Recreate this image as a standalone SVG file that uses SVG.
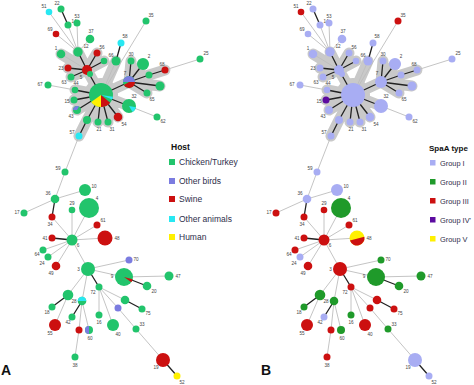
<svg xmlns="http://www.w3.org/2000/svg" xmlns:xlink="http://www.w3.org/1999/xlink" width="474" height="385" viewBox="0 0 474 385">
<style>
.g{fill:#22c46c}.p{fill:#7b7ce0}.r{fill:#cc1010}.c{fill:#28e8f2}.y{fill:#fff000}
.l{fill:#a8adf3}.G{fill:#1f9a2a}.P{fill:#5c0ba0}
.hl{stroke:#c9c9c9;stroke-width:11;stroke-linecap:round;fill:none}
.lt{stroke:#bdbdbd;stroke-width:0.9;fill:none}
.dk{stroke:#222;stroke-width:1.3;fill:none}
text{font-family:"Liberation Sans",Arial,sans-serif}
.t{font-size:4.6px;fill:#444;text-anchor:middle}
.lg{font-size:8.5px;fill:#2d2d4a}
.lg2{font-size:7.4px;fill:#2d2d4a}
.lh{font-size:8.5px;font-weight:bold;fill:#111}
.lh2{font-size:8px;font-weight:bold;fill:#111}
.pl{font-size:14px;font-weight:bold;fill:#111}
</style>
<defs>
<g id="edgesA">
<circle cx="101" cy="95" r="17" fill="#c9c9c9"/>
<path class="hl" d="M87,70L78,52M87,70L97,53M87,70L104,61M87,70L68,68M87,70L71,77M87,70L61,54M87,70L101,95M101,95L75,90M101,95L74,100M101,95L77,110M101,95L87,120M101,95L98,122M101,95L108,122M101,95L118,117M101,95L129,106M101,95L129,82M101,95L116,61M129,82L131,61M129,82L143,64M129,82L149,75M129,82L160,86M129,82L147,93M149,75L165,70M87,120L79,136"/>
<path class="lt" d="M49,12L78,52M56,34L78,52M68,25L78,52M77,23L78,52M90,39L78,52M61,54L87,70M48,85L75,90M146,21L101,95M116,61L101,95M165,70L200,59M157,117L129,106M79,136L65,172L55,199L85,190M55,199L24,213M52,217L72,240M72,240L72,210M72,240L89,208M72,240L97,225M72,240L105,238M72,240L43,250M72,240L48,257M72,240L56,266M72,240L88,269M88,269L129,260M88,269L124,277L169,276M88,269L68,295L55,325M88,269L82,301M82,301L79,330L75,357M82,301L89,330M99,287L99,315M99,287L113,325M99,287L125,300M99,287L118,308L136,329L163,360"/>
<path class="dk" d="M61,9L68,25M78,52L87,70M97,53L87,70M104,61L87,70M68,68L87,70M71,77L87,70M90,74L87,70M87,70L101,95M75,90L101,95M74,100L101,95M77,110L101,95M87,120L101,95M98,122L101,95M108,122L101,95M118,117L101,95M129,106L101,95M129,82L101,95M121,43L116,61M129,82L131,61M129,82L143,64M129,82L149,75M129,82L160,86M129,82L147,93M149,75L165,70M87,120L79,136M55,199L52,217M72,240L52,238M124,277L147,286M88,269L99,287M68,295L52,307M82,301L72,317M125,300L142,309M163,360L177,376"/>
</g>
</defs>

<g id="connectors-A"><use xlink:href="#edgesA"/></g>
<g id="connectors-B"><use xlink:href="#edgesA" x="252"/></g>

<!-- Panel A nodes -->
<g id="panelA">
<g id="a51" transform="translate(49,12)"><circle r="3.3" class="c"/><text class="t" x="-5" y="-4.4">51</text></g>
<g id="a22" transform="translate(61,9)"><circle r="3.5" class="g"/><text class="t" x="-4" y="-4.4">22</text></g>
<g id="a14" transform="translate(68,25)"><circle r="3.5" class="g"/><text class="t" x="6" y="-2.4">14</text></g>
<g id="a53" transform="translate(77,23)"><circle r="3.5" class="g"/><text class="t" x="0" y="-5.4">53</text></g>
<g id="a69" transform="translate(56,34)"><circle r="3.3" class="r"/><text class="t" x="-6" y="-3.4">69</text></g>
<g id="a37" transform="translate(90,39)"><circle r="4.3" class="g"/><text class="t" x="1" y="-5.6">37</text></g>
<g id="a58" transform="translate(121,43)"><circle r="3.5" class="c"/><text class="t" x="4" y="-5.4">58</text></g>
<g id="a35" transform="translate(146,21)"><circle r="3.5" class="g"/><text class="t" x="5" y="-4.4">35</text></g>
<g id="a1" transform="translate(61,54)"><circle r="4.3" class="g"/><text class="t" x="-5" y="-4.4">1</text></g>
<g id="a12" transform="translate(78,52)"><circle r="4.7" class="g"/><text class="t" x="8" y="-4.4">12</text></g>
<g id="a56" transform="translate(97,53)"><circle r="3.5" class="r"/><text class="t" x="5" y="-4.4">56</text></g>
<g id="a60t" transform="translate(104,61)"><circle r="3.3" class="g"/></g>
<g id="a66" transform="translate(116,61)"><circle r="4.5" class="g"/><text class="t" x="-5" y="-4.4">66</text></g>
<g id="a30" transform="translate(131,61)"><circle r="3.5" class="g"/><text class="t" x="0" y="-5.4">30</text></g>
<g id="a2" transform="translate(143,64)"><circle r="6" class="g"/><text class="t" x="6" y="-6.4">2</text></g>
<g id="a68" transform="translate(165,70)"><circle r="3.5" class="r"/><text class="t" x="-3" y="-4.4">68</text></g>
<g id="a25" transform="translate(200,59)"><circle r="3.5" class="g"/><text class="t" x="6" y="-4.4">25</text></g>
<g id="a23" transform="translate(68,68)"><circle r="3.5" class="r"/><text class="t" x="-7" y="1.6">23</text></g>
<g id="a5" transform="translate(87,70)"><circle r="5" class="r"/><text class="t" x="-6" y="8.6">5</text></g>
<g id="a63" transform="translate(71,77)"><circle r="3.5" class="g"/><text class="t" x="-7" y="6.6">63</text></g>
<g id="a90" transform="translate(90,74)"><circle r="3" class="g"/></g>
<g id="a67" transform="translate(48,85)"><circle r="3.5" class="g"/><text class="t" x="-8" y="0.6">67</text></g>
<g id="a44" transform="translate(75,90)"><circle r="3.3" class="g"/><text class="t" x="1" y="-5.4">44</text></g>
<g id="a15" transform="translate(74,100)"><circle r="3.5" class="g"/><text class="t" x="-7" y="2.6">15</text></g>
<g id="a43" transform="translate(77,110)"><circle r="4" class="g"/><path class="p" d="M0,0L-4,0A4,4 0 0 1 2,-3.46Z"/><text class="t" x="-6" y="7.6">43</text></g>
<g id="a8" transform="translate(101,95)"><circle r="12" class="g"/><path class="r" d="M0,0L9.19,7.71A12,12 0 0 1 0,12Z"/><path class="y" d="M0,0L0,12A12,12 0 0 1 -9.83,6.88Z"/><path class="c" d="M0,0L11.88,1.67A12,12 0 0 1 11.13,4.5Z"/></g>
<g id="a87" transform="translate(87,120)"><circle r="4" class="g"/></g>
<g id="a21" transform="translate(98,122)"><circle r="3.5" class="g"/><text class="t" x="1" y="8.6">21</text></g>
<g id="a31" transform="translate(108,122)"><circle r="3.5" class="g"/><text class="t" x="4" y="8.6">31</text></g>
<g id="a54" transform="translate(118,117)"><circle r="4.3" class="r"/><text class="t" x="6" y="9">54</text></g>
<g id="a7" transform="translate(129,82)"><circle r="6" class="g"/><path class="p" d="M0,0L-6,0A6,6 0 0 1 6,0Z"/><path class="r" d="M0,0L6,0A6,6 0 0 1 -5.2,3Z"/><text class="t" x="-4" y="-6.6">7</text></g>
<g id="a149" transform="translate(149,75)"><circle r="3.5" class="g"/></g>
<g id="a40t" transform="translate(160,86)"><circle r="4.5" class="g"/></g>
<g id="a65" transform="translate(147,93)"><circle r="3.5" class="g"/><text class="t" x="5" y="7.6">65</text></g>
<g id="a32" transform="translate(129,106)"><circle r="7" class="g"/><path class="c" d="M0,0L6.89,1.22A7,7 0 0 1 3.5,6.06Z"/><text class="t" x="5" y="-7.6">32</text></g>
<g id="a62" transform="translate(157,117)"><circle r="3.5" class="g"/><text class="t" x="6" y="5.6">62</text></g>
<g id="a57" transform="translate(79,136)"><circle r="3.5" class="c"/><text class="t" x="-7" y="-2.4">57</text></g>
<g id="a59" transform="translate(65,172)"><circle r="3.5" class="g"/><text class="t" x="-7" y="-2.4">59</text></g>
<g id="a36" transform="translate(55,199)"><circle r="4.3" class="g"/><text class="t" x="-7" y="-4.4">36</text></g>
<g id="a10" transform="translate(85,190)"><circle r="6" class="g"/><text class="t" x="9" y="-2.4">10</text></g>
<g id="a17" transform="translate(24,213)"><circle r="3.5" class="g"/><text class="t" x="-7" y="0.6">17</text></g>
<g id="a34" transform="translate(52,217)"><circle r="3.5" class="r"/><text class="t" x="-2" y="8.6">34</text></g>
<g id="a29" transform="translate(72,210)"><circle r="3.3" class="g"/><text class="t" x="0" y="-5.4">29</text></g>
<g id="a4" transform="translate(89,208)"><circle r="10" class="g"/><text class="t" x="8" y="-8.4">4</text></g>
<g id="a61" transform="translate(97,225)"><circle r="3.5" class="r"/><text class="t" x="6" y="-3.4">61</text></g>
<g id="a48" transform="translate(105,238)"><circle r="7.5" class="r"/><text class="t" x="12" y="1.6">48</text></g>
<g id="a41" transform="translate(52,238)"><circle r="3.5" class="r"/><text class="t" x="-7" y="1.6">41</text></g>
<g id="a6" transform="translate(72,240)"><circle r="5.5" class="g"/><text class="t" x="6" y="7">6</text></g>
<g id="a64" transform="translate(43,250)"><circle r="3.5" class="g"/><text class="t" x="-6" y="5.6">64</text></g>
<g id="a24" transform="translate(48,257)"><circle r="3.5" class="g"/><text class="t" x="-6" y="7.6">24</text></g>
<g id="a49" transform="translate(56,266)"><circle r="4.3" class="r"/><text class="t" x="-5" y="8.6">49</text></g>
<g id="a3" transform="translate(88,269)"><circle r="7" class="g"/><text class="t" x="-9.5" y="1.6">3</text></g>
<g id="a70" transform="translate(129,260)"><circle r="3.5" class="p"/><text class="t" x="7" y="0.6">70</text></g>
<g id="a9" transform="translate(124,277)"><circle r="9" class="g"/><path class="r" d="M0,0L8.69,2.33A9,9 0 0 1 7.37,5.16Z"/><text class="t" x="-12" y="0.6">9</text></g>
<g id="a47" transform="translate(169,276)"><circle r="4.5" class="g"/><text class="t" x="9" y="1.6">47</text></g>
<g id="a20" transform="translate(147,286)"><circle r="4.3" class="g"/><text class="t" x="7" y="6.6">20</text></g>
<g id="a72" transform="translate(99,287)"><circle r="3.5" class="g"/><text class="t" x="-6" y="6.6">72</text></g>
<g id="a68b" transform="translate(68,295)"><circle r="5.3" class="g"/></g>
<g id="a18" transform="translate(52,307)"><circle r="3.5" class="g"/><text class="t" x="-5" y="6.6">18</text></g>
<g id="a55" transform="translate(55,325)"><circle r="6" class="r"/><text class="t" x="-5" y="9.6">55</text></g>
<g id="a28" transform="translate(82,301)"><circle r="4.3" class="g"/><path class="c" d="M-4.3,0A4.3,4.3 0 0 1 4.3,0Z"/><text class="t" x="-8" y="1.6">28</text></g>
<g id="a42" transform="translate(72,317)"><circle r="3.5" class="g"/><text class="t" x="-4" y="6.6">42</text></g>
<g id="a79" transform="translate(79,330)"><circle r="3.5" class="r"/></g>
<g id="a60" transform="translate(89,330)"><circle r="4" class="g"/><path class="p" d="M0,-4A4,4 0 0 0 0,4Z"/><text class="t" x="1" y="9.6">60</text></g>
<g id="a38" transform="translate(75,357)"><circle r="3.5" class="g"/><text class="t" x="0" y="9.6">38</text></g>
<g id="a16" transform="translate(99,315)"><circle r="3.5" class="g"/><text class="t" x="0" y="8.6">16</text></g>
<g id="a40" transform="translate(113,325)"><circle r="6" class="g"/><text class="t" x="5" y="10.6">40</text></g>
<g id="a13" transform="translate(125,300)"><circle r="4.3" class="g"/></g>
<g id="a39" transform="translate(118,308)"><circle r="3.5" class="p"/></g>
<g id="a75" transform="translate(142,309)"><circle r="3.5" class="g"/><text class="t" x="6" y="5.6">75</text></g>
<g id="a33" transform="translate(136,329)"><circle r="3.5" class="g"/><text class="t" x="6" y="-3.4">33</text></g>
<g id="a19" transform="translate(163,360)"><circle r="7" class="r"/><text class="t" x="-7" y="9">19</text></g>
<g id="a52" transform="translate(177,376)"><circle r="3.5" class="y"/><text class="t" x="5" y="7.6">52</text></g>
</g>

<!-- Panel B nodes -->
<g id="panelB" transform="translate(252,0)">
<g id="b51" transform="translate(49,12)"><circle r="3.3" class="r"/><text class="t" x="-5" y="-4.4">51</text></g>
<g id="b22" transform="translate(61,9)"><circle r="3.5" class="l"/><text class="t" x="-4" y="-4.4">22</text></g>
<g id="b14" transform="translate(68,25)"><circle r="3.5" class="l"/><text class="t" x="6" y="-2.4">14</text></g>
<g id="b53" transform="translate(77,23)"><circle r="3.5" class="l"/><text class="t" x="0" y="-5.4">53</text></g>
<g id="b69" transform="translate(56,34)"><circle r="3.3" class="l"/><text class="t" x="-6" y="-3.4">69</text></g>
<g id="b37" transform="translate(90,39)"><circle r="4.3" class="l"/><text class="t" x="1" y="-5.6">37</text></g>
<g id="b58" transform="translate(121,43)"><circle r="3.5" class="l"/><text class="t" x="4" y="-5.4">58</text></g>
<g id="b35" transform="translate(146,21)"><circle r="3.5" class="r"/><text class="t" x="5" y="-4.4">35</text></g>
<g id="b1" transform="translate(61,54)"><circle r="4.3" class="l"/><text class="t" x="-5" y="-4.4">1</text></g>
<g id="b12" transform="translate(78,52)"><circle r="4.7" class="l"/><text class="t" x="8" y="-4.4">12</text></g>
<g id="b56" transform="translate(97,53)"><circle r="3.5" class="l"/><text class="t" x="5" y="-4.4">56</text></g>
<g id="b60t" transform="translate(104,61)"><circle r="3.3" class="l"/></g>
<g id="b66" transform="translate(116,61)"><circle r="4.5" class="l"/><text class="t" x="-5" y="-4.4">66</text></g>
<g id="b30" transform="translate(131,61)"><circle r="3.5" class="l"/><text class="t" x="0" y="-5.4">30</text></g>
<g id="b2" transform="translate(143,64)"><circle r="6" class="l"/><text class="t" x="6" y="-6.4">2</text></g>
<g id="b68" transform="translate(165,70)"><circle r="3.5" class="l"/><text class="t" x="-3" y="-4.4">68</text></g>
<g id="b25" transform="translate(200,59)"><circle r="3.5" class="l"/><text class="t" x="6" y="-4.4">25</text></g>
<g id="b23" transform="translate(68,68)"><circle r="3.5" class="l"/><text class="t" x="-7" y="1.6">23</text></g>
<g id="b5" transform="translate(87,70)"><circle r="5" class="l"/><text class="t" x="-6" y="8.6">5</text></g>
<g id="b63" transform="translate(71,77)"><circle r="3.5" class="l"/><text class="t" x="-7" y="6.6">63</text></g>
<g id="b90" transform="translate(90,74)"><circle r="3" class="l"/></g>
<g id="b67" transform="translate(48,85)"><circle r="3.5" class="l"/><text class="t" x="-8" y="0.6">67</text></g>
<g id="b44" transform="translate(75,90)"><circle r="3.3" class="l"/><text class="t" x="1" y="-5.4">44</text></g>
<g id="b15" transform="translate(74,100)"><circle r="3.5" class="P"/><text class="t" x="-7" y="2.6">15</text></g>
<g id="b43" transform="translate(77,110)"><circle r="4" class="l"/><text class="t" x="-6" y="7.6">43</text></g>
<g id="b8" transform="translate(101,95)"><circle r="12" class="l"/></g>
<g id="b87" transform="translate(87,120)"><circle r="4" class="l"/></g>
<g id="b21" transform="translate(98,122)"><circle r="3.5" class="l"/><text class="t" x="1" y="8.6">21</text></g>
<g id="b31" transform="translate(108,122)"><circle r="3.5" class="l"/><text class="t" x="4" y="8.6">31</text></g>
<g id="b54" transform="translate(118,117)"><circle r="4.3" class="l"/><text class="t" x="6" y="9">54</text></g>
<g id="b7" transform="translate(129,82)"><circle r="6" class="l"/><text class="t" x="-4" y="-6.6">7</text></g>
<g id="b149" transform="translate(149,75)"><circle r="3.5" class="l"/></g>
<g id="b40t" transform="translate(160,86)"><circle r="4.5" class="l"/></g>
<g id="b65" transform="translate(147,93)"><circle r="3.5" class="l"/><text class="t" x="5" y="7.6">65</text></g>
<g id="b32" transform="translate(129,106)"><circle r="7" class="l"/><text class="t" x="5" y="-7.6">32</text></g>
<g id="b62" transform="translate(157,117)"><circle r="3.5" class="l"/><text class="t" x="6" y="5.6">62</text></g>
<g id="b57" transform="translate(79,136)"><circle r="3.5" class="l"/><text class="t" x="-7" y="-2.4">57</text></g>
<g id="b59" transform="translate(65,172)"><circle r="3.5" class="l"/><text class="t" x="-7" y="-2.4">59</text></g>
<g id="b36" transform="translate(55,199)"><circle r="4.3" class="l"/><text class="t" x="-7" y="-4.4">36</text></g>
<g id="b10" transform="translate(85,190)"><circle r="6" class="l"/><text class="t" x="9" y="-2.4">10</text></g>
<g id="b17" transform="translate(24,213)"><circle r="3.5" class="r"/><text class="t" x="-7" y="0.6">17</text></g>
<g id="b34" transform="translate(52,217)"><circle r="3.5" class="r"/><text class="t" x="-2" y="8.6">34</text></g>
<g id="b29" transform="translate(72,210)"><circle r="3.3" class="r"/><text class="t" x="0" y="-5.4">29</text></g>
<g id="b4" transform="translate(89,208)"><circle r="10" class="G"/><text class="t" x="8" y="-8.4">4</text></g>
<g id="b61" transform="translate(97,225)"><circle r="3.5" class="r"/><text class="t" x="6" y="-3.4">61</text></g>
<g id="b48" transform="translate(105,238)"><circle r="7.5" class="y"/><path class="r" d="M-7.05,2.57A7.5,7.5 0 0 0 7.39,-1.3Z"/><text class="t" x="12" y="1.6">48</text></g>
<g id="b41" transform="translate(52,238)"><circle r="3.5" class="r"/><text class="t" x="-7" y="1.6">41</text></g>
<g id="b6" transform="translate(72,240)"><circle r="5.5" class="r"/><text class="t" x="6" y="7">6</text></g>
<g id="b64" transform="translate(43,250)"><circle r="3.5" class="r"/><text class="t" x="-6" y="5.6">64</text></g>
<g id="b24" transform="translate(48,257)"><circle r="3.5" class="l"/><text class="t" x="-6" y="7.6">24</text></g>
<g id="b49" transform="translate(56,266)"><circle r="4.3" class="r"/><text class="t" x="-5" y="8.6">49</text></g>
<g id="b3" transform="translate(88,269)"><circle r="7" class="r"/><text class="t" x="-9.5" y="1.6">3</text></g>
<g id="b70" transform="translate(129,260)"><circle r="3.5" class="G"/><text class="t" x="7" y="0.6">70</text></g>
<g id="b9" transform="translate(124,277)"><circle r="9" class="G"/><text class="t" x="-12" y="0.6">9</text></g>
<g id="b47" transform="translate(169,276)"><circle r="4.5" class="G"/><text class="t" x="9" y="1.6">47</text></g>
<g id="b20" transform="translate(147,286)"><circle r="4.3" class="G"/><text class="t" x="7" y="6.6">20</text></g>
<g id="b72" transform="translate(99,287)"><circle r="3.5" class="r"/><text class="t" x="-6" y="6.6">72</text></g>
<g id="b68b" transform="translate(68,295)"><circle r="5.3" class="G"/></g>
<g id="b18" transform="translate(52,307)"><circle r="3.5" class="G"/><text class="t" x="-5" y="6.6">18</text></g>
<g id="b55" transform="translate(55,325)"><circle r="6" class="r"/><text class="t" x="-5" y="9.6">55</text></g>
<g id="b28" transform="translate(82,301)"><circle r="4.3" class="G"/><text class="t" x="-8" y="1.6">28</text></g>
<g id="b42" transform="translate(72,317)"><circle r="3.5" class="l"/><text class="t" x="-4" y="6.6">42</text></g>
<g id="b79" transform="translate(79,330)"><circle r="3.5" class="r"/></g>
<g id="b60" transform="translate(89,330)"><circle r="4" class="G"/><text class="t" x="1" y="9.6">60</text></g>
<g id="b38" transform="translate(75,357)"><circle r="3.5" class="r"/><text class="t" x="0" y="9.6">38</text></g>
<g id="b16" transform="translate(99,315)"><circle r="3.5" class="G"/><text class="t" x="0" y="8.6">16</text></g>
<g id="b40" transform="translate(113,325)"><circle r="6" class="r"/><text class="t" x="5" y="10.6">40</text></g>
<g id="b13" transform="translate(125,300)"><circle r="4.3" class="r"/></g>
<g id="b39" transform="translate(118,308)"><circle r="3.5" class="r"/></g>
<g id="b75" transform="translate(142,309)"><circle r="3.5" class="r"/><text class="t" x="6" y="5.6">75</text></g>
<g id="b33" transform="translate(136,329)"><circle r="3.5" class="G"/><text class="t" x="6" y="-3.4">33</text></g>
<g id="b19" transform="translate(163,360)"><circle r="7" class="l"/><text class="t" x="-7" y="9">19</text></g>
<g id="b52" transform="translate(177,376)"><circle r="3.5" class="l"/><text class="t" x="5" y="7.6">52</text></g>
</g>

<!-- Legends -->
<g id="legend-host">
<text class="lh" x="171" y="150">Host</text>
<rect x="169" y="159" width="6" height="6" class="g"/><text class="lg" x="179" y="165">Chicken/Turkey</text>
<rect x="169" y="178" width="6" height="6" class="p"/><text class="lg" x="179" y="184">Other birds</text>
<rect x="169" y="196" width="6" height="6" class="r"/><text class="lg" x="179" y="202">Swine</text>
<rect x="169" y="216" width="6" height="6" class="c"/><text class="lg" x="179" y="222">Other animals</text>
<rect x="169" y="234" width="6" height="6" class="y"/><text class="lg" x="179" y="240">Human</text>
</g>
<g id="legend-spaa">
<text class="lh2" x="429" y="151">SpaA type</text>
<rect x="430" y="160" width="5.5" height="5.5" class="l"/><text class="lg2" x="440" y="165.5">Group I</text>
<rect x="430" y="179" width="5.5" height="5.5" class="G"/><text class="lg2" x="440" y="184.5">Group II</text>
<rect x="430" y="198" width="5.5" height="5.5" class="r"/><text class="lg2" x="440" y="203.5">Group III</text>
<rect x="430" y="217" width="5.5" height="5.5" class="P"/><text class="lg2" x="440" y="222.5">Group IV'</text>
<rect x="430" y="236" width="5.5" height="5.5" class="y"/><text class="lg2" x="440" y="241.5">Group V</text>
</g>
<text class="pl" x="1" y="375">A</text>
<text class="pl" x="261" y="375">B</text>
</svg>
